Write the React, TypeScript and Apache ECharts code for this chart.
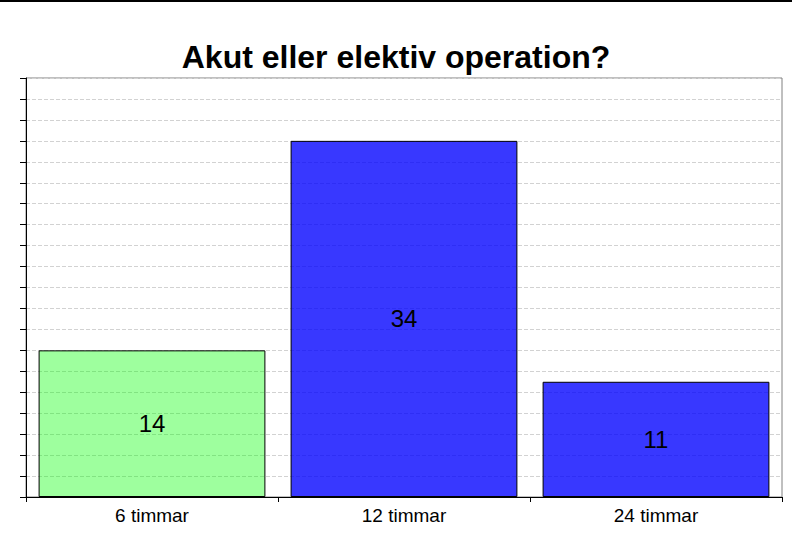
import React, { useEffect, useRef } from "react";
import * as echarts from "echarts";

const categories = ["6 timmar", "12 timmar", "24 timmar"];
const values = [14, 34, 11];
const barColors = ["rgba(0,255,0,0.38)", "rgba(0,0,255,0.78)", "rgba(0,0,255,0.78)"];
const titleText = "Akut eller elektiv operation?";

export default function App() {
  const ref = useRef<HTMLDivElement>(null);
  useEffect(() => {
    if (!ref.current) return;
    const chart = echarts.init(ref.current, undefined, { renderer: "svg" });
    chart.setOption({
      animation: false,
      backgroundColor: "#ffffff",
      title: {
        text: titleText,
        left: "center",
        top: 36,
        textStyle: { fontFamily: "Liberation Sans, Arial, sans-serif", fontWeight: "bold", fontSize: 32, color: "#000" },
      },
      graphic: [
        { type: "line", shape: { x1: 0, y1: 1, x2: 792, y2: 1 }, style: { stroke: "#000", lineWidth: 2 } },
      ],
      grid: {
        left: 26,
        right: 10,
        top: 78,
        bottom: 45,
        show: true,
        borderColor: "#808080",
        borderWidth: 1,
        backgroundColor: "transparent",
      },
      xAxis: {
        type: "category",
        data: categories,
        axisLine: { lineStyle: { color: "#000", width: 1 } },
        axisTick: { show: true, length: 5, lineStyle: { color: "#000" } },
        axisLabel: { fontFamily: "Liberation Sans, Arial, sans-serif", fontSize: 19, color: "#000", margin: 9 },
        splitLine: { show: false },
      },
      yAxis: {
        type: "value",
        min: 0,
        max: 40,
        interval: 2,
        axisLine: { show: true, lineStyle: { color: "#000", width: 1 } },
        axisTick: { show: true, length: 6, lineStyle: { color: "#000" } },
        axisLabel: { show: false },
        splitLine: { show: true, lineStyle: { color: "#d2d2d2", type: [4, 2], width: 1 } },
      },
      series: [
        {
          type: "bar",
          barCategoryGap: "10%",
          data: values.map((v, i) => ({
            value: v,
            itemStyle: { color: barColors[i], borderColor: "#000", borderWidth: 1 },
          })),
          label: {
            show: true,
            position: "inside",
            fontFamily: "Liberation Sans, Arial, sans-serif",
            fontSize: 24,
            color: "#000",
          },
        },
      ],
    });
    return () => chart.dispose();
  }, []);
  return <div ref={ref} style={{ position: "fixed", left: 0, top: 0, width: 792, height: 542 }} />;
}
